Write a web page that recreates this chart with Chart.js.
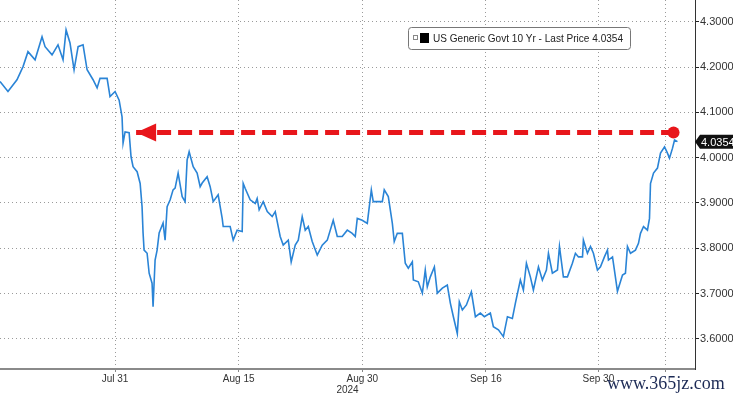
<!doctype html>
<html>
<head>
  <title>US 10Y</title>
  <script src="https://cdn.jsdelivr.net/npm/chart.js@4/dist/chart.umd.min.js"></script>
  <style>
    html, body { margin: 0; padding: 0; background: #fff; }
    #container { width: 733px; height: 396px; }
  </style>
</head>
<body>
<div id="container">
  <canvas id="canvas" width="733" height="396"></canvas>
</div>
<script>
  // x = trading sessions from Jul 31 (0), y = yield %
  var sessions = [-10.24, -9.53, -8.73, -8.19, -7.75, -7.12, -6.50, -6.23, -5.61, -5.08,
    -4.63, -4.36, -4.01, -3.65, -3.29, -2.85, -2.49, -1.96, -1.60, -1.34,
    -0.71, -0.45, 0, 0.36, 0.62, 0.71, 0.89, 1.25, 1.42, 1.60,
    1.96, 2.23, 2.40, 2.49, 2.58, 2.85, 3.03, 3.29, 3.38, 3.56,
    3.74, 3.92, 4.27, 4.45, 4.63, 4.90, 5.16, 5.34, 5.61, 5.97,
    6.23, 6.41, 6.59, 6.95, 7.30, 7.57, 7.75, 8.19, 8.46, 8.73,
    9.17, 9.53, 9.62, 10.24, 10.51, 10.86, 11.31, 11.40, 11.58, 12.02,
    12.47, 12.64, 12.82, 13.18, 13.54, 13.98, 14.25, 14.69, 14.96, 15.41,
    15.67, 16.03, 16.30, 16.65, 16.92, 17.19, 17.54, 17.99, 18.43, 18.88,
    19.41, 19.77, 20.21, 20.66, 21.10, 21.37, 21.55, 21.99, 22.44, 22.80,
    22.97, 23.78, 23.95, 24.31, 24.67, 24.84, 25.11, 25.56, 25.82, 26.09,
    26.45, 26.54, 26.98, 27.34, 27.60, 27.78, 28.05, 28.41, 28.67, 29.12,
    29.56, 29.83, 30.10, 30.45, 30.63, 30.90, 31.26, 31.70, 32.06, 32.50,
    32.86, 33.39, 33.66, 34.11, 34.55, 34.91, 35.35, 35.62, 36.06, 36.33,
    36.60, 36.95, 37.22, 37.67, 38.02, 38.38, 38.56, 38.91, 39.36, 39.54,
    39.89, 40.25, 40.69, 40.96, 41.23, 41.59, 41.67, 42.03, 42.30, 42.56,
    42.92, 43.19, 43.54, 43.81, 43.90, 44.26, 44.43, 44.70, 45.15, 45.41,
    45.59, 45.86, 46.30, 46.57, 46.75, 47.02, 47.37, 47.55, 47.64, 47.91,
    48.26, 48.53, 48.89, 49.15, 49.33, 49.60, 49.78, 50.04];
  var yields = [4.168, 4.146, 4.172, 4.201, 4.234, 4.216, 4.267, 4.245, 4.227, 4.249,
    4.216, 4.282, 4.253, 4.194, 4.245, 4.249, 4.194, 4.172, 4.154, 4.175,
    4.175, 4.135, 4.146, 4.127, 4.090, 4.032, 4.057, 4.055, 4.002, 3.980,
    3.969, 3.943, 3.892, 3.834, 3.796, 3.789, 3.745, 3.723, 3.671, 3.774,
    3.796, 3.834, 3.856, 3.818, 3.892, 3.907, 3.929, 3.933, 3.966, 3.914,
    3.903, 3.995, 4.013, 3.980, 3.966, 3.936, 3.944, 3.958, 3.936, 3.903,
    3.918, 3.866, 3.848, 3.848, 3.818, 3.840, 3.837, 3.943, 3.932, 3.907,
    3.899, 3.910, 3.885, 3.903, 3.881, 3.870, 3.881, 3.826, 3.807, 3.818,
    3.770, 3.807, 3.818, 3.870, 3.840, 3.848, 3.815, 3.785, 3.807, 3.818,
    3.862, 3.826, 3.826, 3.840, 3.833, 3.826, 3.866, 3.862, 3.855, 3.929,
    3.903, 3.903, 3.929, 3.914, 3.855, 3.815, 3.833, 3.833, 3.767, 3.756,
    3.770, 3.730, 3.726, 3.701, 3.752, 3.715, 3.737, 3.759, 3.701, 3.712,
    3.719, 3.679, 3.649, 3.612, 3.682, 3.664, 3.675, 3.704, 3.649, 3.657,
    3.649, 3.657, 3.627, 3.620, 3.605, 3.649, 3.645, 3.679, 3.730, 3.708,
    3.767, 3.737, 3.708, 3.759, 3.730, 3.752, 3.789, 3.745, 3.752, 3.804,
    3.737, 3.737, 3.767, 3.789, 3.781, 3.781, 3.818, 3.789, 3.804, 3.789,
    3.752, 3.759, 3.781, 3.796, 3.774, 3.781, 3.752, 3.705, 3.741, 3.745,
    3.804, 3.789, 3.796, 3.811, 3.833, 3.848, 3.840, 3.866, 3.943, 3.966,
    3.977, 4.010, 4.024, 4.010, 3.999, 4.021, 4.039, 4.0354];

  var tickSessions = [0, 11, 22, 33, 43, 49];
  var tickLabels = ['Jul 31', 'Aug 15', 'Aug 30', 'Sep 16', 'Sep 30', ''];
  var yTicks = [3.6, 3.7, 3.8, 3.9, 4.0, 4.1, 4.2, 4.3];

  // red dashed arrow level
  var arrowSessions = [1.87, 49.69];
  var arrowLevel = [4.0555, 4.0555];

  var lastPrice = yields[yields.length - 1];
  var seriesName = 'US Generic Govt 10 Yr - Last Price';
  var baseFont = 'Arial, "Liberation Sans"';

  var overlay = {
    id: 'overlay',
    afterDatasetsDraw: function (chart) {
      var ctx = chart.ctx;
      var xs = chart.scales.x, ys = chart.scales.y;
      var area = chart.chartArea;

      // arrow head at the left end of the dashed line
      var ax = xs.getPixelForValue(arrowSessions[0]);
      var ay = ys.getPixelForValue(arrowLevel[0]);
      ctx.save();
      ctx.fillStyle = '#e8161b';
      ctx.beginPath();
      ctx.moveTo(ax, ay);
      ctx.lineTo(ax + 20, ay - 9);
      ctx.lineTo(ax + 20, ay + 9);
      ctx.closePath();
      ctx.fill();
      ctx.restore();

      // legend box (text squeezed to the narrow terminal font width)
      ctx.save();
      ctx.font = '11px ' + baseFont;
      var text = seriesName + ' ' + lastPrice.toFixed(4);
      var tw = ctx.measureText(text).width;
      var target = 190;
      var bx = 408, by = 27, bw = 222, bh = 22;
      ctx.fillStyle = '#fff';
      ctx.strokeStyle = '#777';
      ctx.lineWidth = 1;
      ctx.beginPath();
      ctx.roundRect(bx + 0.5, by + 0.5, bw, bh, 3);
      ctx.fill();
      ctx.stroke();
      ctx.strokeStyle = '#888';
      ctx.strokeRect(bx + 5.5, by + 8.5, 4, 4);
      ctx.fillStyle = '#000';
      ctx.fillRect(bx + 12, by + 6, 9, 10);
      ctx.fillStyle = '#222';
      ctx.textBaseline = 'middle';
      ctx.translate(bx + 25, by + bh / 2 + 1);
      ctx.scale(target / tw, 1);
      ctx.fillText(text, 0, 0);
      ctx.restore();

      // last price tag on the right axis
      var ly = ys.getPixelForValue(lastPrice);
      var lx = area.right + 3;
      ctx.save();
      ctx.fillStyle = '#111';
      ctx.beginPath();
      ctx.moveTo(lx - 3, ly);
      ctx.lineTo(lx + 2, ly - 7);
      ctx.lineTo(chart.width, ly - 7);
      ctx.lineTo(chart.width, ly + 7);
      ctx.lineTo(lx + 2, ly + 7);
      ctx.closePath();
      ctx.fill();
      ctx.fillStyle = '#fff';
      ctx.font = '11px ' + baseFont;
      ctx.textBaseline = 'middle';
      ctx.fillText(lastPrice.toFixed(4), lx + 3, ly + 1);
      ctx.restore();

      // watermark
      ctx.save();
      ctx.font = '18px "Liberation Serif", "DejaVu Serif", serif';
      ctx.fillStyle = '#1c2a55';
      ctx.textBaseline = 'alphabetic';
      ctx.fillText('www.365jz.com', 607, 389);
      ctx.restore();
    }
  };

  window.onload = function () {
    var ctx = document.getElementById('canvas').getContext('2d');
    window.myChart = new Chart(ctx, {
      type: 'line',
      data: {
        datasets: [{
          label: seriesName,
          data: sessions.map(function (s, i) { return { x: s, y: yields[i] }; }),
          borderColor: '#2a84d6',
          borderWidth: 1.6,
          pointRadius: 0,
          tension: 0
        }, {
          label: 'level',
          data: arrowSessions.map(function (s, i) { return { x: s, y: arrowLevel[i] }; }),
          borderColor: '#e8161b',
          backgroundColor: '#e8161b',
          borderWidth: 5,
          borderDash: [14, 7],
          pointRadius: [0, 6],
          pointBorderWidth: 0
        }]
      },
      options: {
        responsive: false,
        animation: false,
        maintainAspectRatio: false,
        layout: { padding: 0, autoPadding: false },
        plugins: {
          legend: { display: false },
          tooltip: { enabled: false }
        },
        scales: {
          x: {
            type: 'linear',
            min: -10.24,
            max: 51.6,
            afterBuildTicks: function (axis) {
              axis.ticks = tickSessions.map(function (v) { return { value: v }; });
            },
            afterFit: function (axis) {
              axis.paddingLeft = 0;
              axis.paddingRight = 0;
              axis.height = 27;
            },
            ticks: {
              autoSkip: false,
              maxRotation: 0,
              padding: 1,
              color: '#333',
              font: { family: baseFont, size: 10 },
              callback: function (value, index) { return tickLabels[index]; }
            },
            grid: {
              color: '#9a9a9a',
              lineWidth: 1,
              tickLength: 3,
              tickColor: '#888'
            },
            border: { display: true, color: '#8a8a8a', width: 2, dash: [1, 3] },
            title: {
              display: true,
              text: '2024',
              color: '#333',
              padding: { top: 0, bottom: 0 },
              font: { family: baseFont, size: 10, lineHeight: 1.1 }
            }
          },
          y: {
            position: 'right',
            min: 3.5336,
            max: 4.348,
            afterBuildTicks: function (axis) {
              axis.ticks = yTicks.map(function (v) { return { value: v }; });
            },
            afterFit: function (axis) {
              axis.width = 38;
              axis.paddingTop = 0;
              axis.paddingBottom = 0;
            },
            ticks: {
              autoSkip: false,
              padding: 1,
              color: '#333',
              font: { family: baseFont, size: 11 },
              callback: function (value) { return value.toFixed(4); }
            },
            grid: {
              color: '#9a9a9a',
              lineWidth: 1,
              tickLength: 4,
              tickColor: '#222'
            },
            border: { display: true, color: '#333', width: 1, dash: [1, 3] }
          }
        }
      },
      plugins: [overlay]
    });
  };
</script>
</body>
</html>
